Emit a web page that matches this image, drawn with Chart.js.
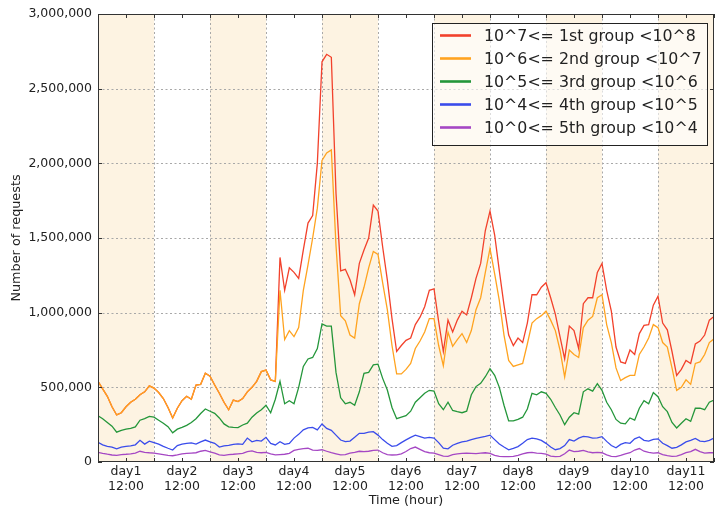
<!DOCTYPE html>
<html>
<head>
<meta charset="utf-8">
<title>Requests per hour by group</title>
<script src="https://cdn.jsdelivr.net/npm/chart.js@4.4.1/dist/chart.umd.min.js"></script>
<style>
  html, body { margin: 0; padding: 0; background: #ffffff; }
  canvas { display: block; }
</style>
</head>
<body>
<canvas id="chart" width="717" height="507"></canvas>
<script>
// One sample every 2 hours, from day1 00:00 to the end of day11 (hour 264).
const HOURS_PER_SAMPLE = 2;
const DAY_NAMES = ['day1', 'day2', 'day3', 'day4', 'day5', 'day6', 'day7', 'day8', 'day9', 'day10', 'day11'];
const SHADED_DAYS = ['day1', 'day3', 'day5', 'day7', 'day9', 'day11'];
const Y_TICKS = [0, 500000, 1000000, 1500000, 2000000, 2500000, 3000000];

const SERIES_NAMES = [
  '10^7<= 1st group <10^8',
  '10^6<= 2nd group <10^7',
  '10^5<= 3rd group <10^6',
  '10^4<= 4th group <10^5',
  '10^0<= 5th group <10^4'
];

// Cumulative request counts, one array per group boundary.
const group1 = [
  540000, 490000, 440000, 370000, 315000, 330000, 370000, 400000, 420000, 450000, 470000, 510000,
  495000, 465000, 425000, 365000, 295000, 360000, 410000, 440000, 420000, 515000, 520000, 595000,
  575000, 516000, 460000, 400000, 350000, 415000, 405000, 425000, 470000, 500000, 540000, 605000,
  615000, 550000, 540000, 1370000, 1150000, 1300000, 1270000, 1230000, 1420000, 1600000, 1650000, 2000000,
  2680000, 2730000, 2710000, 1800000, 1280000, 1290000, 1220000, 1120000, 1330000, 1420000, 1500000, 1720000,
  1680000, 1440000, 1220000, 960000, 740000, 780000, 815000, 830000, 920000, 970000, 1040000, 1150000,
  1160000, 940000, 740000, 950000, 870000, 950000, 1010000, 985000, 1100000, 1230000, 1330000, 1550000,
  1680000, 1520000, 1280000, 1050000, 850000, 780000, 830000, 800000, 930000, 1120000, 1120000, 1170000,
  1200000, 1100000, 990000, 840000, 690000, 910000, 880000, 760000, 1060000, 1100000, 1100000, 1270000,
  1330000, 1150000, 1010000, 770000, 670000, 660000, 750000, 720000, 860000, 915000, 920000, 1050000,
  1110000, 930000, 885000, 740000, 580000, 620000, 680000, 660000, 790000, 810000, 850000, 950000,
  975000
];

const group2 = [
  540000, 490000, 440000, 370000, 315000, 330000, 370000, 400000, 420000, 450000, 470000, 510000,
  495000, 465000, 425000, 365000, 295000, 360000, 410000, 440000, 420000, 515000, 520000, 595000,
  575000, 516000, 460000, 400000, 350000, 415000, 405000, 425000, 470000, 500000, 540000, 605000,
  615000, 550000, 540000, 1150000, 820000, 880000, 840000, 900000, 1150000, 1320000, 1500000, 1700000,
  2020000, 2070000, 2090000, 1450000, 980000, 945000, 850000, 830000, 1060000, 1170000, 1300000, 1410000,
  1390000, 1200000, 1020000, 780000, 590000, 590000, 620000, 660000, 760000, 810000, 870000, 960000,
  960000, 780000, 645000, 870000, 775000, 820000, 860000, 800000, 880000, 1020000, 1100000, 1270000,
  1430000, 1260000, 1080000, 850000, 680000, 640000, 650000, 660000, 790000, 930000, 960000, 980000,
  1010000, 950000, 880000, 750000, 570000, 750000, 720000, 700000, 900000, 950000, 975000, 1100000,
  1120000, 920000, 800000, 630000, 545000, 565000, 580000, 580000, 720000, 770000, 830000, 920000,
  900000, 800000, 770000, 630000, 480000, 500000, 550000, 520000, 660000, 670000, 720000, 800000,
  825000
];

const group3 = [
  310000, 290000, 265000, 240000, 200000, 212000, 220000, 225000, 235000, 280000, 290000, 305000,
  300000, 280000, 260000, 237000, 195000, 220000, 232000, 245000, 265000, 290000, 325000, 355000,
  340000, 326000, 295000, 255000, 235000, 232000, 230000, 248000, 260000, 300000, 328000, 350000,
  380000, 330000, 420000, 540000, 390000, 410000, 390000, 500000, 640000, 690000, 700000, 760000,
  925000, 910000, 910000, 600000, 430000, 390000, 400000, 380000, 470000, 594000, 600000, 650000,
  655000, 560000, 482000, 365000, 290000, 300000, 310000, 340000, 400000, 430000, 460000, 480000,
  475000, 390000, 350000, 400000, 345000, 337000, 330000, 340000, 450000, 505000, 527000, 571000,
  625000, 580000, 500000, 380000, 275000, 275000, 285000, 300000, 355000, 460000, 450000, 470000,
  460000, 420000, 365000, 315000, 250000, 300000, 330000, 320000, 470000, 490000, 475000, 525000,
  480000, 400000, 350000, 285000, 260000, 255000, 295000, 280000, 360000, 410000, 390000, 465000,
  437000, 370000, 337000, 265000, 228000, 259000, 290000, 272000, 360000, 360000, 350000, 400000,
  415000
];

const group4 = [
  132000, 115000, 105000, 100000, 88000, 100000, 105000, 108000, 115000, 145000, 120000, 140000,
  130000, 120000, 105000, 92000, 80000, 110000, 120000, 125000, 128000, 120000, 135000, 147000,
  135000, 125000, 100000, 108000, 112000, 118000, 122000, 118000, 160000, 135000, 145000, 140000,
  165000, 125000, 114000, 136000, 118000, 125000, 160000, 185000, 215000, 228000, 232000, 215000,
  255000, 225000, 212000, 180000, 147000, 136000, 140000, 165000, 192000, 192000, 200000, 203000,
  180000, 150000, 125000, 105000, 110000, 130000, 148000, 165000, 180000, 170000, 160000, 165000,
  160000, 130000, 92000, 88000, 112000, 125000, 135000, 140000, 150000, 158000, 165000, 172000,
  180000, 150000, 120000, 100000, 82000, 92000, 103000, 125000, 150000, 160000, 155000, 145000,
  125000, 100000, 82000, 90000, 110000, 150000, 140000, 160000, 172000, 168000, 160000, 162000,
  170000, 138000, 110000, 95000, 118000, 130000, 125000, 155000, 168000, 145000, 140000, 152000,
  155000, 125000, 110000, 92000, 98000, 115000, 135000, 145000, 158000, 140000, 136000, 145000,
  160000
];

const group5 = [
  65000, 58000, 52000, 47000, 45000, 50000, 52000, 55000, 60000, 72000, 65000, 62000,
  60000, 55000, 50000, 45000, 42000, 48000, 55000, 58000, 60000, 62000, 72000, 78000,
  68000, 60000, 48000, 45000, 50000, 52000, 55000, 58000, 70000, 75000, 65000, 62000,
  64000, 55000, 48000, 50000, 52000, 58000, 78000, 85000, 90000, 92000, 80000, 78000,
  82000, 72000, 62000, 55000, 48000, 50000, 60000, 65000, 72000, 70000, 72000, 78000,
  80000, 62000, 50000, 47000, 48000, 55000, 70000, 90000, 100000, 85000, 70000, 62000,
  60000, 50000, 40000, 38000, 50000, 55000, 58000, 60000, 58000, 56000, 60000, 62000,
  58000, 45000, 38000, 36000, 36000, 38000, 45000, 55000, 62000, 65000, 60000, 58000,
  52000, 40000, 36000, 38000, 55000, 80000, 70000, 72000, 78000, 68000, 62000, 65000,
  62000, 48000, 38000, 36000, 45000, 55000, 62000, 80000, 90000, 72000, 65000, 60000,
  62000, 50000, 42000, 38000, 40000, 50000, 62000, 70000, 85000, 70000, 60000, 62000,
  62000
];

const SERIES_VALUES = [group1, group2, group3, group4, group5];
const SERIES_COLORS = ['#f2412b', '#ffa31f', '#24963a', '#3a4ceb', '#a547c4'];

const LAST_HOUR = DAY_NAMES.length * 24;
const SHADE = '#fdf3e2';
const GRID = '#a8a8a8';
const SPINE = '#333333';
const TEXT = '#222222';
const FONT = 'DejaVu Sans';

function toPoints(values) {
  return values.map((v, i) => ({ x: i * HOURS_PER_SAMPLE, y: v }));
}

// Tick every 12 hours; midday ticks carry the day label.
const tickHours = [];
for (let h = 0; h <= LAST_HOUR; h += 12) tickHours.push(h);

const decorations = {
  id: 'decorations',
  beforeDatasetsDraw(chart) {
    const { ctx, chartArea: a, scales: { x, y } } = chart;
    ctx.save();
    ctx.fillStyle = SHADE;
    SHADED_DAYS.forEach(name => {
      const d = DAY_NAMES.indexOf(name);
      const x0 = x.getPixelForValue(d * 24);
      const x1 = x.getPixelForValue((d + 1) * 24);
      ctx.fillRect(x0, a.top, x1 - x0, a.bottom - a.top);
    });
    ctx.strokeStyle = GRID;
    ctx.lineWidth = 1;
    ctx.setLineDash([2, 2.5]);
    for (let h = 24; h < LAST_HOUR; h += 24) {
      const px = Math.round(x.getPixelForValue(h)) + 0.5;
      ctx.beginPath();
      ctx.moveTo(px, a.top);
      ctx.lineTo(px, a.bottom);
      ctx.stroke();
    }
    Y_TICKS.slice(1, -1).forEach(v => {
      const py = Math.round(y.getPixelForValue(v)) + 0.5;
      ctx.beginPath();
      ctx.moveTo(a.left, py);
      ctx.lineTo(a.right, py);
      ctx.stroke();
    });
    ctx.restore();
  },
  afterDatasetsDraw(chart) {
    const { ctx, chartArea: a, scales: { x, y } } = chart;
    ctx.save();
    // axes frame
    ctx.strokeStyle = SPINE;
    ctx.lineWidth = 1;
    ctx.strokeRect(a.left + 0.5, a.top + 0.5, a.right - a.left - 1, a.bottom - a.top - 1);
    // inward tick marks on all four sides
    const TL = 4;
    ctx.beginPath();
    tickHours.forEach(h => {
      const px = Math.round(x.getPixelForValue(h)) + 0.5;
      ctx.moveTo(px, a.bottom);
      ctx.lineTo(px, a.bottom - TL);
      ctx.moveTo(px, a.top);
      ctx.lineTo(px, a.top + TL);
    });
    Y_TICKS.forEach(v => {
      const py = Math.round(y.getPixelForValue(v)) + 0.5;
      ctx.moveTo(a.left, py);
      ctx.lineTo(a.left + TL, py);
      ctx.moveTo(a.right, py);
      ctx.lineTo(a.right - TL, py);
    });
    ctx.stroke();

    // axis titles
    ctx.fillStyle = TEXT;
    ctx.font = '12.8px "' + FONT + '"';
    ctx.textAlign = 'center';
    ctx.textBaseline = 'alphabetic';
    ctx.fillText('Time (hour)', (a.left + a.right) / 2, 503.5);
    ctx.save();
    ctx.translate(19.5, (a.top + a.bottom) / 2);
    ctx.rotate(-Math.PI / 2);
    ctx.fillText('Number of requests', 0, 0);
    ctx.restore();

    // legend
    const bx = 432.5, by = 23.5, bw = 275, bh = 122;
    ctx.fillStyle = 'rgba(255,255,255,0.6)';
    ctx.fillRect(bx, by, bw, bh);
    ctx.strokeStyle = '#222222';
    ctx.strokeRect(bx, by, bw, bh);
    ctx.font = '15.8px "' + FONT + '"';
    ctx.textAlign = 'left';
    ctx.textBaseline = 'middle';
    SERIES_NAMES.forEach((name, i) => {
      const ly = 35.5 + i * 23;
      ctx.strokeStyle = SERIES_COLORS[i];
      ctx.lineWidth = 2.6;
      ctx.beginPath();
      ctx.moveTo(440, ly);
      ctx.lineTo(471, ly);
      ctx.stroke();
      ctx.fillStyle = TEXT;
      ctx.fillText(name, 484, ly + 1);
    });
    ctx.restore();
  }
};

Chart.defaults.font.family = FONT;

new Chart(document.getElementById('chart'), {
  type: 'line',
  data: {
    datasets: SERIES_NAMES.map((name, i) => ({
      label: name,
      data: toPoints(SERIES_VALUES[i]),
      borderColor: SERIES_COLORS[i],
      backgroundColor: SERIES_COLORS[i],
      borderWidth: 1.3,
      pointRadius: 0,
      tension: 0,
      fill: false,
      order: SERIES_NAMES.length - i
    }))
  },
  options: {
    responsive: false,
    animation: false,
    devicePixelRatio: 1,
    layout: { padding: { top: 14, right: 1, left: 0, bottom: 0 } },
    plugins: { legend: { display: false }, tooltip: { enabled: false } },
    scales: {
      x: {
        type: 'linear',
        min: 0,
        max: LAST_HOUR,
        afterBuildTicks: s => { s.ticks = tickHours.map(v => ({ value: v })); },
        afterFit: s => { s.height = 45; },
        grid: { display: false, drawTicks: false },
        border: { display: false },
        ticks: {
          autoSkip: false,
          maxRotation: 0,
          minRotation: 0,
          padding: 3,
          color: TEXT,
          font: { family: FONT, size: 12.5, lineHeight: 1.15 },
          callback: v => (v % 24 === 12 ? [DAY_NAMES[(v - 12) / 24], '12:00'] : '')
        }
      },
      y: {
        min: 0,
        max: 3000000,
        afterBuildTicks: s => { s.ticks = Y_TICKS.map(v => ({ value: v })); },
        afterFit: s => { s.width = 98; },
        grid: { display: false, drawTicks: false },
        border: { display: false },
        ticks: {
          padding: 6,
          color: TEXT,
          font: { family: FONT, size: 12.5 },
          callback: v => Number(v).toLocaleString('en-US')
        }
      }
    }
  },
  plugins: [decorations]
});
</script>
</body>
</html>
